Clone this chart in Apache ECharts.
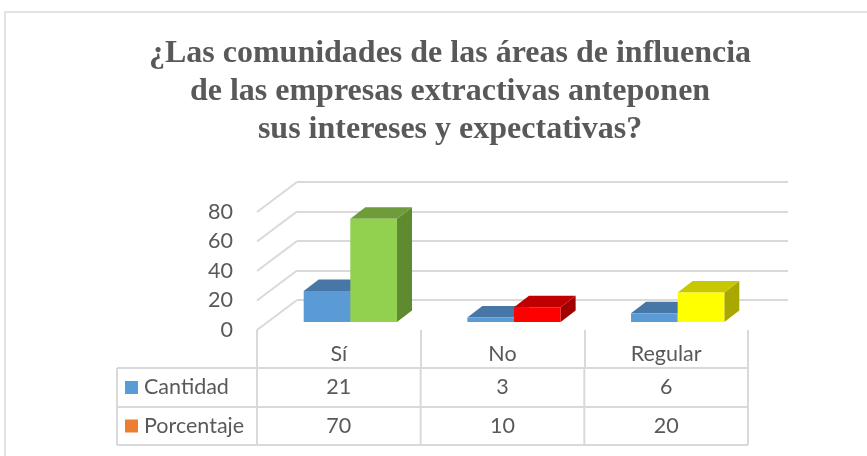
<!DOCTYPE html>
<html>
<head>
<meta charset="utf-8">
<script src="https://cdn.jsdelivr.net/npm/echarts@6/dist/echarts.min.js"></script>
<style>
  html, body { margin: 0; padding: 0; background: #fff; }
  #chart { width: 867px; height: 456px; }
</style>
</head>
<body>
<div id="chart"></div>
<script>
// datos del gráfico
var categories = ["Sí", "No", "Regular"];
var cantidad = [21, 3, 6];
var porcentaje = [70, 10, 20];
var yTicks = [0, 20, 40, 60, 80];

// colores de cada punto de "Porcentaje"
var pctFront = ["#92D050", "#FF0000", "#FFFF00"];
var pctTop = ["#6E9C3A", "#C00000", "#C8C800"];
var pctSide = ["#5E8A30", "#A00000", "#A8A800"];

var txt = "#595959";
var line = "#D9D9D9";
var font = "Lato";
var fs = 21.5;

// desplazamiento 3D (pared trasera y caras de las barras)
var WALL = [40, -30];
var BAR_OFF = [11.5, -8];
var BAR_DEPTH = [15, -11.5];

var chart = echarts.init(document.getElementById("chart"));

function barRender(kind) {
  return function (params, api) {
    var i = api.value(0);
    var v = api.value(1);
    var base = api.coord([i, 0]);
    var topP = api.coord([i, v]);
    var bw = api.size([1, 0])[0];
    var w = bw * 0.285;
    var x0 = kind === 0 ? base[0] + BAR_OFF[0] - w : base[0] + BAR_OFF[0];
    var yb = base[1] + BAR_OFF[1];
    var yt = topP[1] + BAR_OFF[1];
    var dx = BAR_DEPTH[0], dy = BAR_DEPTH[1];
    var front = kind === 0 ? "#5B9BD5" : pctFront[i];
    var top = kind === 0 ? "#4677A6" : pctTop[i];
    var side = kind === 0 ? "#3F6B95" : pctSide[i];
    return {
      type: "group",
      children: [
        { type: "polygon", shape: { points: [[x0 + w, yb], [x0 + w + dx, yb + dy], [x0 + w + dx, yt + dy], [x0 + w, yt]] }, style: { fill: side } },
        { type: "polygon", shape: { points: [[x0, yt], [x0 + dx, yt + dy], [x0 + w + dx, yt + dy], [x0 + w, yt]] }, style: { fill: top } },
        { type: "rect", shape: { x: x0, y: yt, width: w, height: yb - yt }, style: { fill: front } }
      ]
    };
  };
}

var option = {
  animation: false,
  backgroundColor: "#fff",
  title: {
    text: "¿Las comunidades de las áreas de influencia\nde las empresas extractivas anteponen\nsus intereses y expectativas?",
    left: 445,
    top: 30,
    textAlign: "center",
    textStyle: {
      fontFamily: "Liberation Serif",
      fontWeight: "bold",
      fontSize: 32,
      lineHeight: 38,
      color: txt
    }
  },
  grid: [
    // plano frontal
    { left: 257, right: 119, top: 212, bottom: 126 },
    // pared trasera
    { left: 297, right: 79, top: 182, bottom: 156 }
  ],
  xAxis: [
    {
      gridIndex: 0,
      type: "category",
      data: categories,
      axisLine: { show: false },
      axisTick: { show: true, length: 38, lineStyle: { color: line, width: 2 } },
      axisLabel: { margin: 13, fontSize: fs, color: txt, fontFamily: font },
      splitLine: { show: false }
    },
    {
      gridIndex: 1,
      type: "category",
      data: categories,
      show: false
    }
  ],
  yAxis: [
    {
      gridIndex: 0,
      type: "value",
      min: 0,
      max: 80,
      interval: 20,
      axisLine: { show: false },
      axisTick: { show: false },
      axisLabel: { margin: 24, fontSize: fs, color: txt, fontFamily: font },
      splitLine: { show: false }
    },
    {
      gridIndex: 1,
      type: "value",
      min: 0,
      max: 80,
      interval: 20,
      axisLine: { show: false },
      axisTick: { show: false },
      axisLabel: { show: false },
      splitLine: { show: true, lineStyle: { color: line, width: 2 } }
    }
  ],
  series: [
    {
      // líneas diagonales de la pared lateral
      type: "custom",
      xAxisIndex: 0,
      yAxisIndex: 0,
      clip: false,
      silent: true,
      data: yTicks.map(function (t) { return [0, t]; }),
      renderItem: function (params, api) {
        var p = api.coord([0, api.value(1)]);
        var bw = api.size([1, 0])[0];
        var x = p[0] - bw / 2;
        return {
          type: "line",
          shape: { x1: x, y1: p[1], x2: x + WALL[0], y2: p[1] + WALL[1] },
          style: { stroke: line, lineWidth: 2 }
        };
      },
      z: 1
    },
    {
      name: "Cantidad",
      type: "custom",
      xAxisIndex: 0,
      yAxisIndex: 0,
      clip: false,
      data: cantidad.map(function (v, i) { return [i, v]; }),
      renderItem: barRender(0),
      z: 3
    },
    {
      name: "Porcentaje",
      type: "custom",
      xAxisIndex: 0,
      yAxisIndex: 0,
      clip: false,
      data: porcentaje.map(function (v, i) { return [i, v]; }),
      renderItem: barRender(1),
      z: 4
    }
  ]
};

chart.setOption(option);

// tabla de datos debajo del gráfico
var c0 = chart.convertToPixel({ gridIndex: 0 }, [0, 0]);
var c1 = chart.convertToPixel({ gridIndex: 0 }, [1, 0]);
var band = c1[0] - c0[0];
var left0 = c0[0] - band / 2;
var tblLeft = 117;
var rowY = [368, 407, 445];
var g = [];

g.push({ type: "rect", shape: { x: 5, y: 12, width: 900, height: 500 }, style: { fill: "none", stroke: line, lineWidth: 1.5 }, z: -1 });

rowY.forEach(function (y) {
  g.push({ type: "line", shape: { x1: tblLeft, y1: y, x2: left0 + band * categories.length, y2: y }, style: { stroke: line, lineWidth: 2 } });
});
g.push({ type: "line", shape: { x1: tblLeft, y1: rowY[0], x2: tblLeft, y2: rowY[2] }, style: { stroke: line, lineWidth: 2 } });
for (var k = 0; k <= categories.length; k++) {
  var xx = left0 + band * k;
  g.push({ type: "line", shape: { x1: xx, y1: rowY[0], x2: xx, y2: rowY[2] }, style: { stroke: line, lineWidth: 2 } });
}

var rows = [
  { name: "Cantidad", color: "#5B9BD5", vals: cantidad },
  { name: "Porcentaje", color: "#ED7D31", vals: porcentaje }
];
rows.forEach(function (r, ri) {
  var cy = (rowY[ri] + rowY[ri + 1]) / 2;
  g.push({ type: "rect", shape: { x: 125, y: cy - 6.5, width: 13, height: 13 }, style: { fill: r.color } });
  g.push({ type: "text", x: 144, y: cy, style: { text: r.name, fill: txt, fontSize: fs, fontFamily: font, verticalAlign: "middle", align: "left" } });
  r.vals.forEach(function (v, i) {
    g.push({ type: "text", x: left0 + band * (i + 0.5), y: cy, style: { text: String(v), fill: txt, fontSize: fs, fontFamily: font, verticalAlign: "middle", align: "center" } });
  });
});

chart.setOption({ graphic: g });
</script>
</body>
</html>
